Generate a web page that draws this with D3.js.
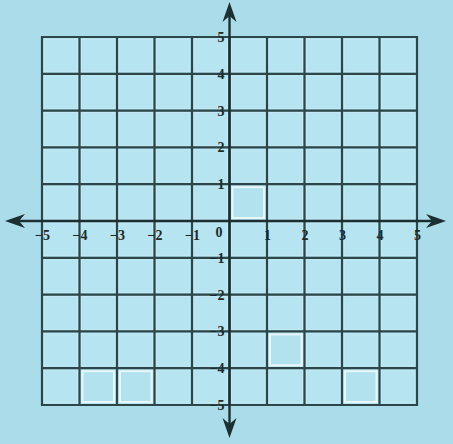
<!DOCTYPE html>
<html>
<head>
<meta charset="utf-8">
<script src="https://cdn.jsdelivr.net/npm/d3@7"></script>
<style>
  body { margin: 0; background: #aadcea; }
  svg { display: block; }
</style>
</head>
<body>
<script>
// tick values on each axis
var xTicks = [-5, -4, -3, -2, -1, 0, 1, 2, 3, 4, 5];
var yTicks = [-5, -4, -3, -2, -1, 1, 2, 3, 4, 5];
// grid cells drawn with a white outline (lower-left corner of each cell)
var cellX = [0, -4, -3, 1, 3];
var cellY = [0, -5, -5, -4, -5];

var w = 453, h = 444;
var lineColor = "#2c4649";
var inkColor = "#1c2f31";

var svg = d3.select("body").append("svg")
    .attr("width", w)
    .attr("height", h);

// set the ranges
var x = d3.scaleLinear().domain([-5, 5]).range([42, 417]);
var y = d3.scaleLinear().domain([-5, 5]).range([405, 37]);

var ox = x(0), oy = y(0); // where the axes cross

// cells
var cells = [];
for (var i = -5; i < 5; i++) {
  for (var j = -5; j < 5; j++) cells.push([i, j]);
}
svg.append("g").selectAll("rect")
   .data(cells)
   .enter()
   .append("rect")
   .attr("x", function(d) { return x(d[0]) + 2; })
   .attr("y", function(d) { return y(d[1] + 1) + 2; })
   .attr("width", function(d) { return x(d[0] + 1) - x(d[0]) - 4; })
   .attr("height", function(d) { return y(d[1]) - y(d[1] + 1) - 4; })
   .attr("fill", "#b6e4f0")
   .attr("stroke", "#c4eaf3")
   .attr("stroke-width", 1);

// highlighted cells
svg.append("g").selectAll("rect")
   .data(cellX)
   .enter()
   .append("rect")
   .attr("x", function(d) { return x(d) + 3; })
   .attr("y", function(d, i) { return y(cellY[i] + 1) + 3; })
   .attr("width", function(d) { return x(d + 1) - x(d) - 6; })
   .attr("height", function(d, i) { return y(cellY[i]) - y(cellY[i] + 1) - 6; })
   .attr("fill", "#b2e2ee")
   .attr("stroke", "#e6f7fb")
   .attr("stroke-width", 2);

// grid lines
var grid = svg.append("g")
    .attr("stroke", lineColor)
    .attr("stroke-width", 2.2);
grid.selectAll("line.v")
    .data(xTicks)
    .enter()
    .append("line")
    .attr("x1", function(d) { return x(d); })
    .attr("x2", function(d) { return x(d); })
    .attr("y1", y(5) - 1)
    .attr("y2", y(-5) + 1);
grid.selectAll("line.h")
    .data(xTicks)
    .enter()
    .append("line")
    .attr("y1", function(d) { return y(d); })
    .attr("y2", function(d) { return y(d); })
    .attr("x1", x(-5) - 1)
    .attr("x2", x(5) + 1);

// axes with arrows
var axes = svg.append("g")
    .attr("stroke", inkColor)
    .attr("stroke-width", 2.4);
axes.append("line").attr("x1", 10).attr("x2", 440).attr("y1", oy).attr("y2", oy);
axes.append("line").attr("x1", ox).attr("x2", ox).attr("y1", 8).attr("y2", 432);

function arrow(tx, ty, angle) {
  svg.append("path")
     .attr("d", "M0,0 L-20,-7 L-14,0 L-20,7 Z")
     .attr("fill", inkColor)
     .attr("transform", "translate(" + tx + "," + ty + ") rotate(" + angle + ")");
}
arrow(446, oy, 0);
arrow(5, oy, 180);
arrow(ox, 2, -90);
arrow(ox, 438, 90);

// tick labels
var xAxisG = svg.append("g")
    .attr("transform", "translate(0," + oy + ")")
    .call(d3.axisBottom(x).tickValues(xTicks).tickSize(0).tickPadding(9));
xAxisG.select(".domain").remove();
xAxisG.selectAll(".tick text")
      .attr("dx", function(d) { return d === 0 ? "-11" : "0"; })
      .attr("dy", function(d) { return d === 0 ? "0.5em" : "0.71em"; });

var yAxisG = svg.append("g")
    .attr("transform", "translate(" + ox + ",0)")
    .call(d3.axisLeft(y).tickValues(yTicks).tickSize(0).tickPadding(5));
yAxisG.select(".domain").remove();

svg.selectAll(".tick text")
   .attr("fill", "#1a2b2d")
   .attr("font-family", "'Liberation Serif', 'DejaVu Serif', serif")
   .attr("font-size", 14)
   .attr("font-weight", "bold");
</script>
</body>
</html>
